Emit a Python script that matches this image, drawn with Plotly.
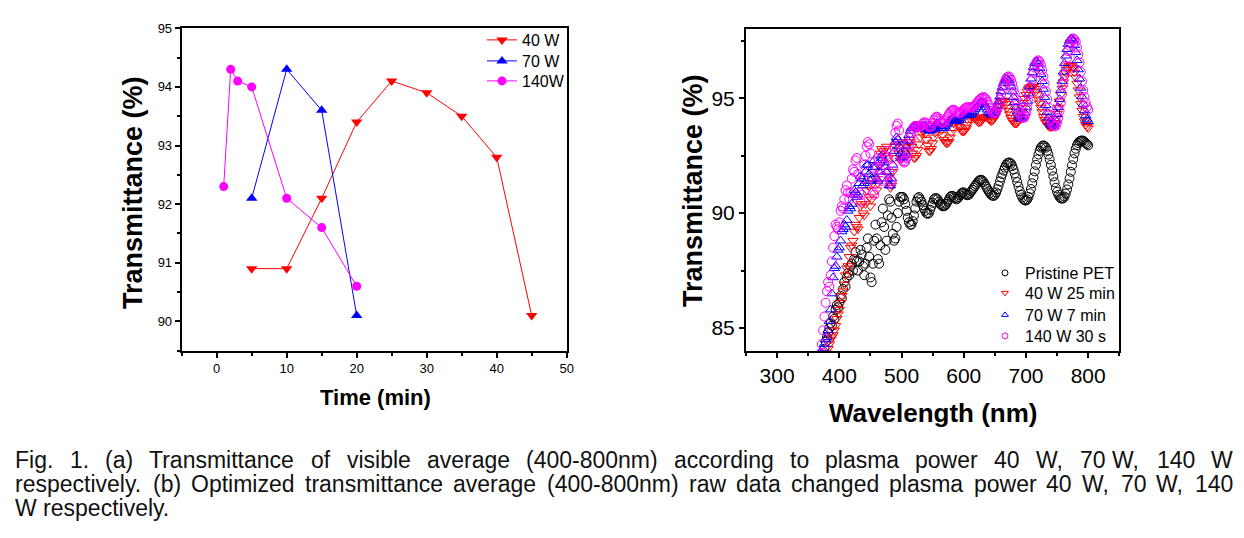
import plotly.graph_objects as go

W, H = 1244, 538

# ---------------- (a) data ----------------
time_40 = [5, 10, 15, 20, 25, 30, 35, 40, 45]
trans_40 = [90.9, 90.9, 92.1, 93.4, 94.1, 93.9, 93.5, 92.8, 90.1]
time_70 = [5, 10, 15, 20]
trans_70 = [92.1, 94.3, 93.6, 90.1]
time_140 = [1, 2, 3, 5, 10, 15, 20]
trans_140 = [92.3, 94.3, 94.1, 94.0, 92.1, 91.6, 90.6]

# ---------------- (b) data ----------------
wavelength = list(range(370, 801, 2))

pristine = [
    83.2, 83.5, 83.8, 84.1, 84.4, 84.6, 84.8, 85.0, 85.2, 85.1,
    85.5, 85.4, 85.8, 86.0, 85.9, 86.1, 86.4, 86.3, 86.7, 87.0,
    86.8, 87.2, 87.4, 87.3, 87.7, 87.8, 87.5, 88.0, 88.3, 87.9,
    87.5, 87.9, 88.4, 88.2, 87.7, 87.3, 87.8, 88.5, 88.9, 88.1,
    87.2, 87.0, 87.8, 88.8, 89.5, 88.9, 88.0, 87.8, 88.6, 89.6,
    90.2, 89.4, 88.4, 88.8, 89.9, 90.6, 90.5, 89.8, 89.1, 88.8,
    88.9, 89.4, 90.0, 90.5, 90.7,
    90.7, 90.7, 90.6, 90.4, 90.1, 89.8, 89.6, 89.5, 89.5, 89.65,
    89.9, 90.2, 90.5, 90.65, 90.7, 90.6, 90.5, 90.35, 90.2, 90.1,
    90.0, 89.97, 90.0, 90.15, 90.3, 90.45, 90.6, 90.65, 90.65, 90.6,
    90.5, 90.4, 90.35, 90.3, 90.3, 90.33, 90.4, 90.5, 90.6, 90.7,
    90.75, 90.75, 90.7, 90.65, 90.6, 90.63, 90.7, 90.78, 90.85, 90.9,
    90.9, 90.85, 90.8, 90.78, 90.8, 90.87, 90.95, 91.02, 91.1, 91.18,
    91.25, 91.33, 91.4, 91.44, 91.45, 91.42, 91.35, 91.25, 91.15, 91.05,
    90.95, 90.87, 90.8, 90.76, 90.75, 90.8, 90.9, 91.04, 91.2, 91.38,
    91.55, 91.7, 91.85, 91.98, 92.1, 92.17, 92.2, 92.2, 92.15, 92.05,
    91.9, 91.73, 91.55, 91.35, 91.15, 90.96, 90.8, 90.68, 90.6, 90.56,
    90.55, 90.6, 90.7, 90.86, 91.05, 91.3, 91.55, 91.82, 92.1, 92.34,
    92.55, 92.72, 92.85, 92.92, 92.95, 92.92, 92.85, 92.72, 92.55, 92.34,
    92.1, 91.85, 91.6, 91.34, 91.1, 90.93, 90.8, 90.7, 90.65, 90.63,
    90.65, 90.72, 90.85, 91.03, 91.25, 91.51, 91.8, 92.08, 92.35, 92.6,
    92.8, 92.95, 93.05, 93.12, 93.15, 93.16, 93.15, 93.1, 93.05, 93.0,
    92.95,
]

w40_25min = [
    82.6, 82.9, 83.2, 83.4, 83.7, 83.9, 84.1, 84.3, 84.5, 84.6,
    84.7, 84.9, 85.1, 85.4, 85.6, 85.8, 86.1, 86.4, 86.6, 86.9,
    87.3, 87.6, 87.7, 88.1, 88.5, 88.6, 88.8, 89.2, 89.5, 89.4,
    89.3, 89.8, 90.3, 90.4, 90.0, 89.9, 90.4, 91.0, 91.2, 90.7,
    90.3, 90.6, 91.3, 91.8, 91.5, 91.0, 91.3, 92.1, 92.6, 92.8,
    92.7, 92.5, 92.8, 92.9, 92.4, 91.6, 91.1, 91.2, 91.8, 92.4,
    92.9, 93.1, 93.0, 92.6, 92.3,
    92.4, 92.5, 92.6, 92.75, 92.9, 93.1, 93.2, 93.1, 92.9, 92.6,
    92.4, 92.4, 92.5, 92.75, 93.0, 93.3, 93.5, 93.6, 93.6, 93.45,
    93.2, 92.95, 92.7, 92.7, 92.8, 93.05, 93.3, 93.5, 93.7, 93.8,
    93.8, 93.75, 93.6, 93.4, 93.2, 93.1, 93.05, 93.05, 93.1, 93.3,
    93.5, 93.7, 93.9, 94.0, 94.05, 94.0, 93.9, 93.75, 93.6, 93.55,
    93.55, 93.6, 93.7, 93.85, 94.0, 94.12, 94.2, 94.22, 94.2, 94.12,
    94.05, 94.0, 93.95, 93.96, 94.0, 94.08, 94.15, 94.18, 94.2, 94.16,
    94.1, 94.05, 94.0, 94.03, 94.1, 94.2, 94.35, 94.5, 94.65, 94.77,
    94.85, 94.9, 94.9, 94.85, 94.75, 94.6, 94.45, 94.3, 94.15, 94.03,
    93.95, 93.9, 93.9, 93.93, 94.0, 94.15, 94.35, 94.57, 94.8, 94.98,
    95.15, 95.3, 95.4, 95.47, 95.5, 95.51, 95.5, 95.42, 95.3, 95.14,
    94.95, 94.78, 94.6, 94.4, 94.2, 94.06, 93.95, 93.87, 93.8, 93.76,
    93.75, 93.76, 93.8, 93.93, 94.1, 94.33, 94.6, 94.87, 95.15, 95.43,
    95.7, 95.92, 96.1, 96.25, 96.35, 96.42, 96.45, 96.4, 96.3, 96.12,
    95.9, 95.64, 95.35, 95.05, 94.75, 94.46, 94.2, 94.0, 93.85, 93.76,
    93.7,
]

w70_7min = [
    83.6, 83.9, 84.1, 84.3, 84.5, 84.6, 84.9, 85.3, 85.8, 86.5,
    87.2, 87.6, 87.7, 88.1, 88.4, 88.5, 88.8, 89.2, 89.3, 89.5,
    89.4, 89.7, 90.1, 90.3, 90.2, 90.4, 90.8, 91.0, 90.9, 90.7,
    90.8, 91.3, 91.6, 91.5, 91.2, 91.3, 91.8, 92.1, 92.1, 91.7,
    91.4, 91.5, 92.0, 92.3, 92.0, 91.5, 91.4, 91.8, 92.3, 92.5,
    92.4, 92.2, 92.0, 91.8, 91.5, 91.2, 91.2, 91.5, 92.1, 92.7,
    93.1, 93.3, 93.2, 92.9, 92.6,
    92.4, 92.43, 92.5, 92.68, 92.9, 93.15, 93.4, 93.58, 93.7, 93.77,
    93.8, 93.79, 93.75, 93.7, 93.65, 93.66, 93.7, 93.76, 93.8, 93.79,
    93.75, 93.68, 93.6, 93.58, 93.6, 93.66, 93.75, 93.84, 93.9, 93.89,
    93.85, 93.78, 93.7, 93.68, 93.7, 93.77, 93.85, 93.93, 94.0, 94.06,
    94.1, 94.11, 94.1, 94.05, 94.0, 94.01, 94.05, 94.12, 94.2, 94.26,
    94.3, 94.31, 94.3, 94.27, 94.25, 94.26, 94.3, 94.37, 94.45, 94.53,
    94.6, 94.68, 94.75, 94.81, 94.85, 94.84, 94.8, 94.71, 94.6, 94.5,
    94.4, 94.34, 94.3, 94.28, 94.3, 94.38, 94.5, 94.66, 94.85, 95.07,
    95.3, 95.49, 95.65, 95.77, 95.85, 95.85, 95.8, 95.67, 95.5, 95.29,
    95.05, 94.82, 94.6, 94.41, 94.25, 94.15, 94.1, 94.12, 94.2, 94.37,
    94.6, 94.88, 95.2, 95.53, 95.85, 96.12, 96.35, 96.52, 96.6, 96.59,
    96.5, 96.31, 96.05, 95.74, 95.4, 95.05, 94.7, 94.4, 94.15, 93.97,
    93.85, 93.8, 93.8, 93.89, 94.05, 94.3, 94.6, 94.96, 95.35, 95.75,
    96.15, 96.52, 96.85, 97.13, 97.35, 97.5, 97.6, 97.58, 97.5, 97.3,
    97.0, 96.65, 96.25, 95.85, 95.45, 95.08, 94.75, 94.47, 94.25, 94.1,
    94.0,
]

w140_30s = [
    83.9, 84.3, 84.9, 85.5, 86.1, 86.6, 87.0, 86.8, 87.3, 87.9,
    88.5, 89.0, 89.5, 89.4, 89.3, 89.6, 90.1, 90.3, 90.2, 90.6,
    91.0, 91.2, 90.9, 90.6, 90.9, 91.5, 91.9, 91.8, 92.3, 92.4,
    91.7, 90.9, 90.5, 90.8, 91.5, 92.1, 92.5, 92.9, 93.1, 93.0,
    92.6, 91.6, 90.9, 90.8, 91.3, 92.0, 92.4, 92.3, 91.9, 91.4,
    91.6, 92.1, 92.5, 92.7, 92.4, 91.8, 91.3, 91.4, 92.0, 92.9,
    93.5, 93.8, 93.9, 93.6, 93.0,
    92.4, 92.28, 92.2, 92.25, 92.4, 92.68, 93.0, 93.27, 93.5, 93.65,
    93.75, 93.79, 93.8, 93.78, 93.75, 93.76, 93.8, 93.88, 93.95, 93.94,
    93.9, 93.82, 93.75, 93.75, 93.8, 93.92, 94.05, 94.14, 94.2, 94.17,
    94.1, 94.02, 93.95, 93.93, 93.95, 94.02, 94.1, 94.2, 94.3, 94.38,
    94.45, 94.49, 94.5, 94.46, 94.4, 94.36, 94.35, 94.37, 94.4, 94.45,
    94.5, 94.56, 94.6, 94.61, 94.6, 94.6, 94.6, 94.62, 94.65, 94.69,
    94.75, 94.83, 94.9, 94.96, 95.0, 95.03, 95.05, 95.02, 94.95, 94.84,
    94.7, 94.57, 94.45, 94.38, 94.35, 94.36, 94.4, 94.52, 94.7, 94.92,
    95.15, 95.36, 95.55, 95.72, 95.85, 95.92, 95.95, 95.9, 95.8, 95.62,
    95.4, 95.18, 94.95, 94.72, 94.5, 94.33, 94.2, 94.15, 94.15, 94.22,
    94.35, 94.57, 94.85, 95.17, 95.5, 95.81, 96.1, 96.33, 96.5, 96.61,
    96.65, 96.59, 96.45, 96.23, 95.95, 95.64, 95.3, 94.95, 94.6, 94.3,
    94.05, 93.89, 93.8, 93.78, 93.8, 93.94, 94.15, 94.44, 94.8, 95.19,
    95.6, 96.01, 96.4, 96.75, 97.05, 97.28, 97.45, 97.56, 97.6, 97.56,
    97.45, 97.21, 96.9, 96.55, 96.15, 95.74, 95.35, 95.05, 94.8, 94.62,
    94.5,
]

caption_lines = [
    "Fig. 1. (a) Transmittance of visible average (400-800nm) according to plasma power 40 W, 70\u00a0W, 140 W",
    "respectively. (b) Optimized transmittance average (400-800nm) raw data changed plasma power 40 W, 70 W, 140",
    "W respectively.",
]

FONT = "Liberation Sans, Arial, sans-serif"


def px(xp):
    return xp / W


def py(yp):
    return 1 - yp / H


fig = go.Figure()

# ---------- panel (a) ----------
panel_a = [
    ("40 W", time_40, trans_40, "triangle-down", 10, "#ff0000", "legend", 23),
    ("70 W", time_70, trans_70, "triangle-up", 10, "#0000ff", "legend2", 44),
    ("140W", time_140, trans_140, "circle", 9, "#ff00ff", "legend3", 64),
]
for name, xs, ys, sym, sz, col, leg, _top in panel_a:
    fig.add_trace(go.Scatter(
        x=xs, y=ys, mode="lines+markers", name=name,
        line=dict(color=col, width=1),
        marker=dict(symbol=sym, size=sz, color=col),
        xaxis="x", yaxis="y", legend=leg))

# ---------- panel (b) ----------
spectra = [
    ("Pristine PET", pristine, "circle-open", "#000000", "legend4", 256),
    ("40 W 25 min", w40_25min, "triangle-down-open", "#ff0000", "legend5", 276),
    ("70 W 7 min", w70_7min, "triangle-up-open", "#0000ff", "legend6", 298),
    ("140 W 30 s", w140_30s, "circle-open", "#ff00ff", "legend7", 319),
]
for name, vals, sym, col, leg, _top in spectra:
    fig.add_trace(go.Scatter(
        x=wavelength, y=vals, mode="markers", name=name, showlegend=False,
        marker=dict(symbol=sym, size=9, color=col, line=dict(width=1, color=col)),
        xaxis="x2", yaxis="y2"))
for name, vals, sym, col, leg, _top in spectra:
    fig.add_trace(go.Scatter(
        x=[None], y=[None], mode="markers", name=name,
        marker=dict(symbol=sym, size=6, color=col, line=dict(width=1, color=col)),
        xaxis="x2", yaxis="y2", legend=leg))

axis_common = dict(
    showline=True, linecolor="black", linewidth=2, mirror=True,
    ticks="outside", tickcolor="black", tickwidth=1.5, ticklen=5,
    showgrid=False, zeroline=False, automargin=False,
)

legends = {}
for name, xs, ys, sym, sz, col, leg, top in panel_a:
    legends[leg] = dict(x=px(482), y=py(top), xanchor="left", yanchor="top",
                        bgcolor="rgba(0,0,0,0)", font=dict(size=16, family=FONT),
                        itemwidth=30)
for name, vals, sym, col, leg, top in spectra:
    legends[leg] = dict(x=px(985), y=py(top), xanchor="left", yanchor="top",
                        bgcolor="rgba(0,0,0,0)", font=dict(size=16, family=FONT),
                        itemwidth=30)

fig.update_layout(
    width=W, height=H,
    margin=dict(l=0, r=0, t=0, b=0),
    paper_bgcolor="white", plot_bgcolor="white",
    font=dict(family=FONT, color="black"),
    xaxis=dict(domain=[px(181.7), px(566.7)], range=[-5, 50], dtick=10, tick0=0,
               minor=dict(ticks="outside", dtick=5, ticklen=3, tickwidth=1.5, tickcolor="black"),
               tickfont=dict(size=13, family=FONT), anchor="y", **axis_common),
    yaxis=dict(domain=[py(350.7), py(28.3)], range=[89.5, 95], dtick=1, tick0=90,
               minor=dict(ticks="outside", dtick=0.5, ticklen=3, tickwidth=1.5, tickcolor="black"),
               tickfont=dict(size=13, family=FONT), anchor="x", **axis_common),
    xaxis2=dict(domain=[px(746), px(1119.3)], range=[250, 850], dtick=100, tick0=300,
                minor=dict(ticks="outside", dtick=50, ticklen=3, tickwidth=1.5, tickcolor="black"),
                tickfont=dict(size=21, family=FONT), anchor="y2", **axis_common),
    yaxis2=dict(domain=[py(351), py(29.3)], range=[84, 98], tickvals=[85, 90, 95],
                minor=dict(ticks="outside", dtick=2.5, tick0=85, ticklen=3, tickwidth=1.5, tickcolor="black"),
                tickfont=dict(size=21, family=FONT), anchor="x2", **axis_common),
    showlegend=True,
    **legends,
)

# axis titles
titles = [
    ("<b>Transmittance (%)</b>", 133, 193, -90, 27),
    ("<b>Time (min)</b>", 375, 397, 0, 22),
    ("<b>Transmittance (%)</b>", 693, 191, -90, 27),
    ("<b>Wavelength (nm)</b>", 932.5, 413, 0, 26),
]
for txt, xx, yy, ang, sz in titles:
    fig.add_annotation(text=txt, x=px(xx), y=py(yy), xref="paper", yref="paper",
                       xanchor="center", yanchor="middle", textangle=ang,
                       showarrow=False, font=dict(size=sz, family=FONT, color="black"))

# caption (justified like the source)
ARIAL = {' ': 278, '\u00a0': 278, 'F': 611, 'i': 222, 'g': 556, '.': 278, '(': 333, ')': 333,
         'a': 556, 'T': 611, 'r': 333, 'n': 556, 's': 500, 'm': 833, 't': 278, 'c': 500,
         'e': 556, 'o': 556, 'f': 278, 'v': 500, 'b': 556, 'l': 222, '-': 333, 'd': 556,
         'p': 556, 'w': 722, 'W': 944, ',': 278, 'y': 500, 'O': 778, 'z': 500, 'h': 556}


def text_width(s, size):
    return sum(ARIAL.get(ch, 556) for ch in s) * size / 1000.0


CAP_SIZE = 23
cap_left, cap_right = 14, 1232
cap_y = [460, 484, 508]
for i, line in enumerate(caption_lines):
    words = line.split(" ")
    if i < 2:
        widths = [text_width(w, CAP_SIZE) for w in words]
        gap = (cap_right - cap_left - sum(widths)) / (len(words) - 1)
        xpos = cap_left
        for w, wd in zip(words, widths):
            fig.add_annotation(text=w, x=px(xpos), y=py(cap_y[i]), xref="paper", yref="paper",
                               xanchor="left", yanchor="middle", showarrow=False, borderpad=0,
                               font=dict(size=CAP_SIZE, family=FONT, color="#111111"))
            xpos += wd + gap
    else:
        fig.add_annotation(text=line, x=px(cap_left), y=py(cap_y[i]), xref="paper", yref="paper",
                           xanchor="left", yanchor="middle", showarrow=False, borderpad=0,
                           font=dict(size=CAP_SIZE, family=FONT, color="#111111"))

fig.write_html("out.html", config={"displayModeBar": False},
               post_script="document.body.style.margin='0px';")
